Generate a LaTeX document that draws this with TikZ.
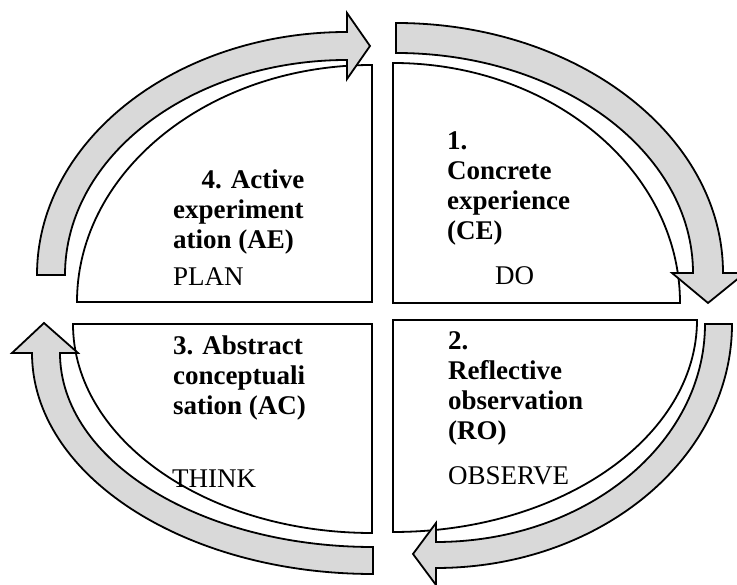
\documentclass[tikz,border=0pt]{standalone}
\usepackage{fontspec}
\setmainfont{Liberation Serif}
\usepackage{tikz}
\definecolor{arrowgray}{HTML}{D9D9D9}
\tikzset{
  quadrant/.style={draw=black, fill=white, line width=1.8pt},
  cycleArrow/.style={draw=black, fill=arrowgray, line width=1.8pt},
  stageTitle/.style={font=\fontsize{27}{30}\selectfont\bfseries, align=left, inner sep=0pt, anchor=base west},
  stageWord/.style={font=\fontsize{27}{30}\selectfont, inner sep=0pt, anchor=base west}
}

\begin{document}
\begin{tikzpicture}[x=1pt, y=1pt]
  \useasboundingbox (0,0) rectangle (737,585);

  % the four stages
  \draw[quadrant] (372,283) -- (77,283) arc[start angle=180, end angle=90, x radius=295, y radius=237] -- cycle;
  \draw[quadrant] (393,282) -- (393,522) arc[start angle=90, end angle=0, x radius=287, y radius=240] -- cycle;
  \draw[quadrant] (393,265) -- (697,265) arc[start angle=0, end angle=-90, x radius=304, y radius=212] -- cycle;
  \draw[quadrant] (372,261) -- (372,52) arc[start angle=270, end angle=180, x radius=299, y radius=209] -- cycle;

  % curved arrows round the cycle
  \draw[cycleArrow] (37,310) arc[start angle=180, end angle=90, x radius=310, y radius=243]
    -- (347,572) -- (370,539) -- (347,506) -- (347,525)
    arc[start angle=90, end angle=180, x radius=282, y radius=215] -- cycle;
  \draw[cycleArrow] (396,562) arc[start angle=90, end angle=0, x radius=327, y radius=250]
    -- (745,312) -- (708,282) -- (672,312) -- (693,312)
    arc[start angle=0, end angle=90, x radius=297, y radius=220] -- cycle;
  \draw[cycleArrow] (732,261) arc[start angle=0, end angle=-90, x radius=296, y radius=244]
    -- (436,0) -- (413,31) -- (436,62) -- (436,43)
    arc[start angle=-90, end angle=0, x radius=269, y radius=218] -- cycle;
  \draw[cycleArrow] (373,11) arc[start angle=270, end angle=180, x radius=341, y radius=221]
    -- (12,232) -- (44,262) -- (78,232) -- (60,232)
    arc[start angle=180, end angle=270, x radius=313, y radius=194] -- cycle;

  % texts (base = last line)
  \node[stageTitle] (aeTitle) at (173,336) {\hspace*{1.05em}4. Active\\experiment\\ation (AE)};
  \node[stageWord] (aeWord) at (173,299) {PLAN};
  \node[stageTitle] (ceTitle) at (447,345) {1.\\Concrete\\experience\\(CE)};
  \node[stageWord] (ceWord) at (495,300) {DO};
  \node[stageTitle] (roTitle) at (448,145) {2.\\Reflective\\observation\\(RO)};
  \node[stageWord] (roWord) at (448,100) {OBSERVE};
  \node[stageTitle] (acTitle) at (173,170) {3. Abstract\\conceptuali\\sation (AC)};
  \node[stageWord] (acWord) at (172,97) {THINK};
\end{tikzpicture}
\end{document}
